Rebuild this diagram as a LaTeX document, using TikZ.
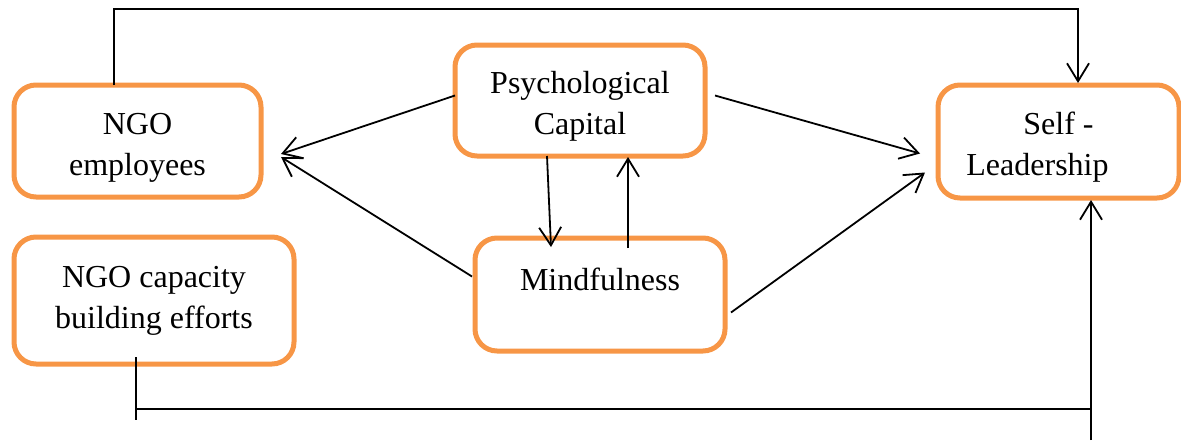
\documentclass[tikz,border=0pt]{standalone}
\usepackage{fontspec}
\setmainfont{Liberation Serif}
\usetikzlibrary{calc,arrows.meta}
\usepackage{xcolor}
\definecolor{boxorange}{HTML}{F79646}
\newcommand{\topstrut}{\rule{0pt}{17pt}}
\tikzset{
  factor/.style={draw=boxorange,line width=2.5pt,rounded corners=11pt,fill=white,
    align=center,inner sep=0pt,outer sep=0pt,font=\fontsize{16}{20.5}\selectfont},
  link/.style={line width=0.9pt},
  arr/.style={link,-{Straight Barb[length=9pt,width=11pt]}}
}

\begin{document}
\begin{tikzpicture}[x=0.5pt,y=-0.5pt]
  \useasboundingbox (0,0) rectangle (1181,440);
  \node[factor,minimum width=123.5pt,minimum height=56pt] (emp) at (137.5,141) {\topstrut NGO\\employees};
  \node[factor,minimum width=140pt,minimum height=63.5pt] (cap) at (154,300.5) {NGO capacity\\building efforts};
  \node[factor,minimum width=125pt,minimum height=55.5pt] (psy) at (580,100.5) {\topstrut Psychological\\Capital};
  \node[factor,minimum width=125pt,minimum height=56.5pt,text height=11pt,text depth=15.5pt] (mind) at (600,294.5) {Mindfulness};
  \node[factor,minimum width=120.5pt,minimum height=56.5pt] (self) at (1058.5,141.5) {\topstrut Self -\\Leadership\hspace*{21pt}};

  \draw[arr] ($(psy.west)+(0,-5)$) -- ($(emp.east)+(20,13)$);
  \draw[arr] ($(mind.west)+(-3,-18)$) -- ($(emp.east)+(20,16)$);
  \draw[arr] ($(psy.east)+(10,-5)$) -- ($(self.west)+(-18,12)$);
  \draw[arr] ($(mind.east)+(6,18)$) -- ($(self.west)+(-13,31)$);
  \draw[arr] ($(psy.south)+(-33,0)$) -- ($(mind.north)+(-49,9)$);
  \draw[arr] ($(mind.north)+(28,10)$) -- ($(psy.south)+(48,1)$);

  \draw[arr] ($(emp.north)+(-23.5,0)$) |- ($(self.north)+(19.5,-76)$) -- ($(self.north)+(19.5,-2)$);
  \coordinate (capbot) at ($(cap.south)+(-18,-7)$);
  \coordinate (selfbot) at ($(self.south)+(32.5,2)$);
  \coordinate (botl) at ($(capbot)+(0,52)$);
  \draw[link] (capbot) -- ++(0,63);
  \draw[link] (botl) -- (botl -| selfbot);
  \draw[arr] ($(selfbot)+(0,240)$) -- (selfbot);
\end{tikzpicture}
\end{document}
